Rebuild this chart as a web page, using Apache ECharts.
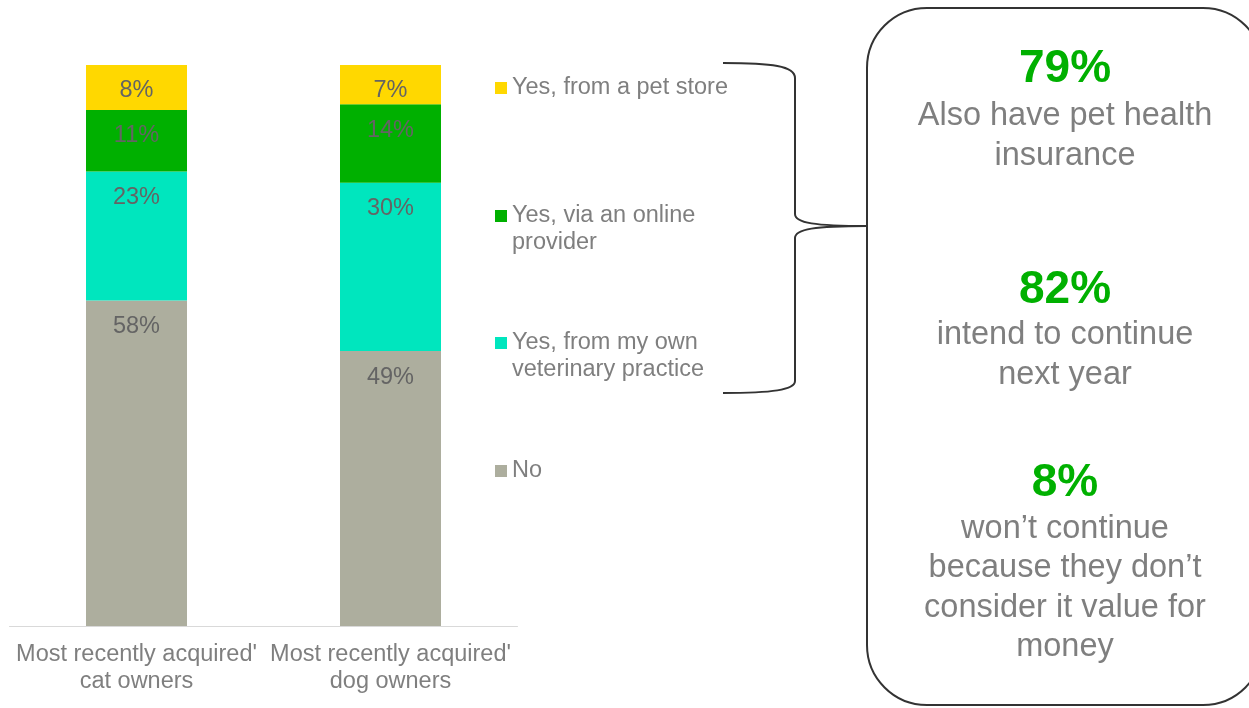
<!DOCTYPE html>
<html>
<head>
<meta charset="utf-8">
<script src="https://cdn.jsdelivr.net/npm/echarts@6/dist/echarts.min.js"></script>
<style>
  html, body { margin: 0; padding: 0; background: #ffffff; }
  #chart { width: 1249px; height: 708px; }
</style>
</head>
<body>
<div id="chart"></div>
<script>
// Survey answers: share of recent pet owners who bought a pet health plan, and where
const categories = ["Most recently acquired'\ncat owners", "Most recently acquired'\ndog owners"];
const seriesNames = ['No', 'Yes, from my own veterinary practice', 'Yes, via an online provider', 'Yes, from a pet store'];
const legendLabels = ['No', 'Yes, from my own\nveterinary practice', 'Yes, via an online\nprovider', 'Yes, from a pet store'];
const noValues = [58, 49];
const vetPracticeValues = [23, 30];
const onlineProviderValues = [11, 14];
const petStoreValues = [8, 7];
const seriesColors = ['#ADAE9E', '#00E6BE', '#00B000', '#FFD800'];

// Callout figures
const calloutStats = ['79%', '82%', '8%'];
const calloutCaptions = [
  'Also have pet health\ninsurance',
  'intend to continue\nnext year',
  'won\u2019t continue\nbecause they don\u2019t\nconsider it value for\nmoney'
];

const FONT = '"Liberation Sans", Arial, Helvetica, sans-serif';
const GREY_TEXT = '#7F7F7F';

const valueSets = [noValues, vetPracticeValues, onlineProviderValues, petStoreValues];

const series = seriesNames.map((name, i) => ({
  name: name,
  type: 'bar',
  stack: 'total',
  barWidth: 101,
  data: valueSets[i],
  itemStyle: { color: seriesColors[i] },
  label: {
    show: true,
    position: 'insideTop',
    distance: 14,
    formatter: '{c}%',
    color: '#646464',
    fontFamily: FONT,
    fontSize: 23.5
  }
}));

// One legend block per entry so each sits beside its own row.
// Two-line entries get an empty leading line so the marker lines up with the first line.
const legendCentres = [471, 343, 216, 88];
const legends = seriesNames.map((name, i) => {
  const twoLine = legendLabels[i].indexOf('\n') >= 0;
  return {
    data: [name],
    left: 495,
    top: twoLine ? legendCentres[i] - 40.5 : legendCentres[i] - 13.5,
    padding: 0,
    itemWidth: 12,
    itemHeight: 12,
    icon: 'rect',
    selectedMode: false,
    formatter: () => (twoLine ? '\n' : '') + legendLabels[i],
    textStyle: {
      color: GREY_TEXT,
      fontFamily: FONT,
      fontSize: 23.5,
      lineHeight: 27
    }
  };
});

// Callout box text
const boxCentreX = 1065;
const statCentres = [69, 290, 483];
const captionCentres = [136, 355, 588];
const calloutText = [];
calloutStats.forEach((s, i) => {
  calloutText.push({
    type: 'text',
    style: {
      text: s, x: boxCentreX, y: statCentres[i],
      textAlign: 'center', textVerticalAlign: 'middle',
      font: 'bold 46px ' + FONT, fill: '#00B000'
    }
  });
  calloutText.push({
    type: 'text',
    style: {
      text: calloutCaptions[i], x: boxCentreX, y: captionCentres[i],
      textAlign: 'center', textVerticalAlign: 'middle',
      font: '32.5px ' + FONT, fill: GREY_TEXT, lineHeight: 39.5
    }
  });
});

const braceStyle = { stroke: '#333333', lineWidth: 2, fill: 'none' };
const brace = [
  { type: 'bezierCurve', shape: { x1: 723, y1: 63, cpx1: 772, cpy1: 63, cpx2: 795, cpy2: 66, x2: 795, y2: 78 }, style: braceStyle },
  { type: 'line', shape: { x1: 795, y1: 78, x2: 795, y2: 214 }, style: braceStyle },
  { type: 'bezierCurve', shape: { x1: 795, y1: 214, cpx1: 795, cpy1: 223, cpx2: 815, cpy2: 226, x2: 867, y2: 226 }, style: braceStyle },
  { type: 'bezierCurve', shape: { x1: 867, y1: 226, cpx1: 815, cpy1: 226, cpx2: 795, cpy2: 229, x2: 795, y2: 238 }, style: braceStyle },
  { type: 'line', shape: { x1: 795, y1: 238, x2: 795, y2: 381 }, style: braceStyle },
  { type: 'bezierCurve', shape: { x1: 795, y1: 381, cpx1: 795, cpy1: 390, cpx2: 772, cpy2: 393, x2: 723, y2: 393 }, style: braceStyle }
];

const chart = echarts.init(document.getElementById('chart'), null, { renderer: 'canvas' });
chart.setOption({
  animation: false,
  backgroundColor: '#ffffff',
  textStyle: { fontFamily: FONT },
  grid: { left: 9.5, right: 731.5, top: 65, bottom: 82, containLabel: false },
  xAxis: {
    type: 'category',
    data: categories,
    axisLine: { show: true, lineStyle: { color: '#D9D9D9', width: 1 } },
    axisTick: { show: false },
    axisLabel: {
      color: GREY_TEXT,
      fontFamily: FONT,
      fontSize: 23.5,
      lineHeight: 27,
      margin: 15,
      interval: 0
    }
  },
  yAxis: {
    type: 'value',
    min: 0,
    max: 100,
    show: false,
    splitLine: { show: false }
  },
  legend: legends,
  series: series,
  graphic: [
    {
      type: 'rect',
      shape: { x: 867, y: 8, width: 396, height: 697, r: 60 },
      style: { fill: 'none', stroke: '#333333', lineWidth: 2 }
    }
  ].concat(brace, calloutText)
});
</script>
</body>
</html>
